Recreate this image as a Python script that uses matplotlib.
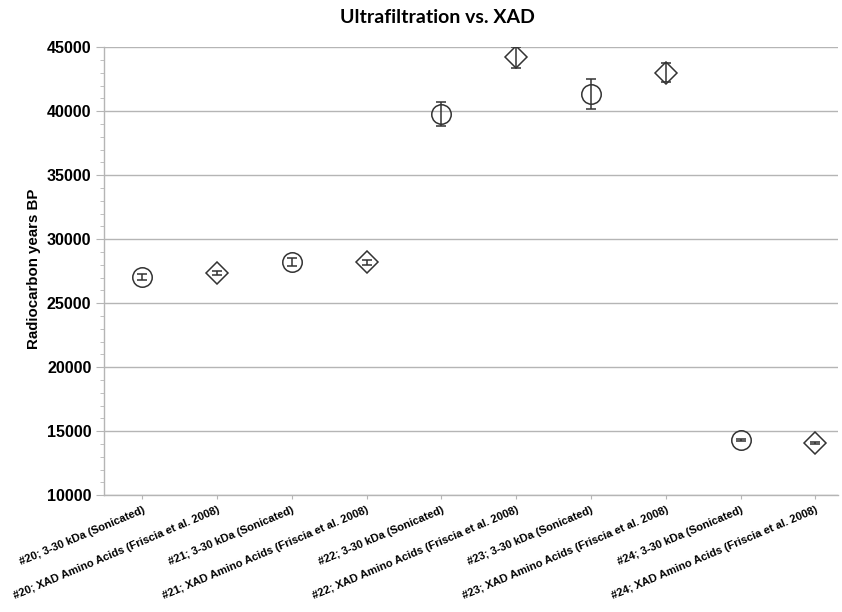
import matplotlib
matplotlib.use("Agg")
import matplotlib.pyplot as plt
from matplotlib.ticker import MultipleLocator

categories = [
    "#20; 3-30 kDa (Sonicated)",
    "#20; XAD Amino Acids (Friscia et al. 2008)",
    "#21; 3-30 kDa (Sonicated)",
    "#21; XAD Amino Acids (Friscia et al. 2008)",
    "#22; 3-30 kDa (Sonicated)",
    "#22; XAD Amino Acids (Friscia et al. 2008)",
    "#23; 3-30 kDa (Sonicated)",
    "#23; XAD Amino Acids (Friscia et al. 2008)",
    "#24; 3-30 kDa (Sonicated)",
    "#24; XAD Amino Acids (Friscia et al. 2008)",
]
ages = [27050, 27350, 28230, 28180, 39800, 44200, 41330, 43000, 14300, 14090]
errors = [230, 150, 300, 170, 950, 800, 1200, 740, 100, 80]
markers = ["o", "D", "o", "D", "o", "D", "o", "D", "o", "D"]

plt.rcParams['font.family'] = ['Liberation Sans', 'DejaVu Sans']
fig = plt.figure(figsize=(8.42, 6.12), dpi=100)
ax = fig.add_axes([0.1235, 0.191, 0.8715, 0.732])

for i, (v, e, m) in enumerate(zip(ages, errors, markers)):
    ax.errorbar(i, v, yerr=e, fmt='none', ecolor='#333333', elinewidth=1.1,
                capsize=3.5, capthick=1.1, zorder=3)
    ax.plot(i, v, marker=m, markersize=14 if m == 'o' else 11.5,
            markerfacecolor='none', markeredgecolor='#333333',
            markeredgewidth=1.1, linestyle='none', zorder=4)

ax.set_ylim(10000, 45000)
ax.set_xlim(-0.51, 9.3)
ax.yaxis.set_major_locator(MultipleLocator(5000))
ax.yaxis.set_minor_locator(MultipleLocator(1000))
ax.grid(axis='y', which='major', color='#b5b5b5', linewidth=1.0)
ax.set_axisbelow(True)
for s in ['top', 'right']:
    ax.spines[s].set_visible(False)
for s in ['left', 'bottom']:
    ax.spines[s].set_color('#b5b5b5')
    ax.spines[s].set_linewidth(1.0)

ax.set_xticks(range(len(categories)))
ax.set_xticklabels(categories, rotation=23, ha='right', va='top',
                   rotation_mode='anchor', fontsize=8, fontweight='bold')
ax.tick_params(axis='x', length=3, color='#b5b5b5', pad=4)
ax.tick_params(axis='y', which='major', length=6, color='#b5b5b5',
               labelsize=11.5, pad=3)
ax.tick_params(axis='y', which='minor', length=3, color='#b5b5b5')
for lbl in ax.get_yticklabels():
    lbl.set_fontweight('bold')

fig.text(0.04, 0.56, "Radiocarbon years BP", rotation=90, ha='center',
         va='center', fontsize=10.8, fontweight='bold')
fig.text(0.519, 0.972, "Ultrafiltration vs. XAD", ha='center', va='center',
         fontsize=14, fontweight='bold', family=['Lato', 'DejaVu Sans'])

fig.savefig("out.png", dpi=100)
